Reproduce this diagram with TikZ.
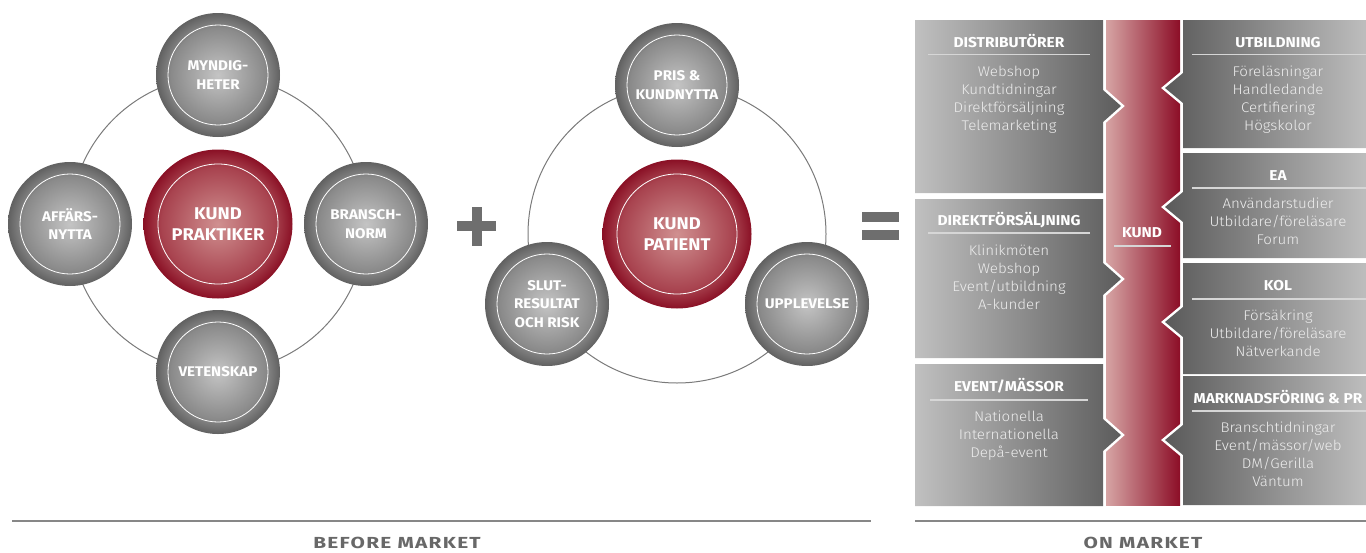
\documentclass[tikz,border=0pt]{standalone}
\usepackage{fontspec}
\setmainfont{Fira Sans}
\newfontfamily\wfont[FakeStretch=1.08]{Fira Sans}
\newfontfamily\lfont[FakeStretch=1.08]{Fira Sans Light}
\newfontfamily\botfont[FakeStretch=1.3,LetterSpace=8]{Fira Sans}
\definecolor{gballin}{HTML}{C4C4C4}
\definecolor{gballmid}{HTML}{8A8A8A}
\definecolor{gballout}{HTML}{616161}
\definecolor{rballin}{HTML}{D09090}
\definecolor{rballmid}{HTML}{A8434F}
\definecolor{rballout}{HTML}{8A1025}
\definecolor{lboxl}{HTML}{C0C0C0}
\definecolor{lboxr}{HTML}{5C5C5C}
\definecolor{rboxl}{HTML}{5A5A5A}
\definecolor{rboxr}{HTML}{BDBDBD}
\definecolor{redl}{HTML}{D6A4A4}
\definecolor{redr}{HTML}{8C0E27}
\definecolor{ringgray}{HTML}{7A7A7A}
\definecolor{signgray}{HTML}{6E6E6E}
\definecolor{labgray}{HTML}{686868}
\definecolor{itemcol}{HTML}{EDEDED}
\definecolor{hlinecol}{HTML}{D6D6D6}
% pgf maps the middle 50bp of a shading onto the path's bounding box
\pgfdeclareradialshading{grayball}{\pgfpoint{0bp}{0bp}}{color(0bp)=(gballin); color(19bp)=(gballmid); color(25bp)=(gballout); color(50bp)=(gballout)}
\pgfdeclareradialshading{redball}{\pgfpoint{0bp}{0bp}}{color(0bp)=(rballin); color(19bp)=(rballmid); color(25bp)=(rballout); color(50bp)=(rballout)}
\pgfdeclarehorizontalshading{lboxsh}{100bp}{color(0bp)=(lboxl); color(25bp)=(lboxl); color(75bp)=(lboxr); color(100bp)=(lboxr)}
\pgfdeclarehorizontalshading{rboxsh}{100bp}{color(0bp)=(rboxl); color(25bp)=(rboxl); color(75bp)=(rboxr); color(100bp)=(rboxr)}
\pgfdeclarehorizontalshading{redcolsh}{100bp}{color(0bp)=(redl); color(25bp)=(redl); color(75bp)=(redr); color(100bp)=(redr)}
\newcommand\mylbox[3]{%
  \draw[white,line width=5pt] (1103,#3) -- ++(18,16) -- ++(-18,16);
  \shade[shading=lboxsh] (915,#1) -- (1103,#1) -- (1103,#3) -- ++(18,16) -- ++(-18,16) -- (1103,#2) -- (915,#2) -- cycle;}
\newcommand\myrbox[3]{%
  \draw[white,line width=5pt] (1183,#3) -- ++(-18,15) -- ++(18,15);
  \shade[shading=rboxsh] (1366,#1) -- (1183,#1) -- (1183,#3) -- ++(-18,15) -- ++(18,15) -- (1183,#2) -- (1366,#2) -- cycle;}
\newcommand\myitems[4]{%
  \foreach \t [count=\i from 0] in {#4} \node[itemtxt] (#1\i) at (#2,#3+18*\i) {\t};}
\begin{document}
\begin{tikzpicture}[x=1pt,y=-1pt,
  ringline/.style={draw=ringgray,line width=1pt},
  ball/.style={circle,minimum size=124pt,inner sep=0pt,shading=grayball,align=center,text=white,
    font=\wfont\bfseries\fontsize{14}{18.5}\selectfont,
    path picture={\draw[white,line width=0.8pt] (path picture bounding box.center) circle[radius=50pt];}},
  rball/.style={circle,minimum size=149pt,inner sep=0pt,shading=redball,align=center,text=white,
    font=\wfont\bfseries\fontsize{17}{21.5}\selectfont,
    path picture={\draw[white,line width=0.8pt] (path picture bounding box.center) circle[radius=60pt];}},
  signbar/.style={fill=signgray,draw=none},
  headtxt/.style={anchor=base,inner sep=0pt,text=white,font=\wfont\bfseries\fontsize{14.3}{16}\selectfont},
  itemtxt/.style={anchor=base,inner sep=0pt,text=itemcol,font=\lfont\fontsize{14}{18}\selectfont},
  hline/.style={draw=hlinecol,line width=1.3pt},
  bottomline/.style={draw=ringgray!90,line width=1.6pt},
  bottomtxt/.style={anchor=base,inner sep=0pt,text=labgray,font=\botfont\bfseries\fontsize{16}{20}\selectfont}
]
\useasboundingbox (0,0) rectangle (1366,552);

% ---------- left diagram
\draw[ringline] (218,224) circle[radius=148pt];
\node[ball] (myn) at (218,75) {MYNDIG-\\HETER};
\node[ball] (aff) at (70,224) {AFFÄRS-\\NYTTA};
\node[ball] (bra) at (366,224) {BRANSCH-\\NORM};
\node[ball] (vet) at (218,372) {VETENSKAP};
\node[rball] (kpr) at (218,224) {KUND\\PRAKTIKER};

% plus
\path[signbar] (457,221) rectangle (496,231);
\path[signbar] (471.5,207) rectangle (481.5,246);

% ---------- middle diagram
\draw[ringline] (677,234) circle[radius=149pt];
\node[ball] (pris) at (677,85) {PRIS \&\\KUNDNYTTA};
\node[ball] (slut) at (547,304) {SLUT-\\RESULTAT\\OCH RISK};
\node[ball] (upp) at (807,304) {UPPLEVELSE};
\node[rball] (kpa) at (677,234) {KUND\\PATIENT};

% equals
\path[signbar] (862,212) rectangle (899,222);
\path[signbar] (862,230) rectangle (899,240);

% ---------- right panel
\shade[shading=redcolsh] (1106,20) rectangle (1180,505);
\mylbox{20}{193}{90}
\mylbox{199}{358}{263}
\mylbox{364}{506}{419}
\myrbox{20}{148}{73}
\myrbox{153}{258}{192}
\myrbox{263}{374}{307}
\myrbox{376}{505}{425}

\node[headtxt] (kund) at (1142,237) {KUND};
\draw[hline] (1114,246) -- (1171,246);

% left boxes text
\node[headtxt] (hdist) at (1009,47) {DISTRIBUTÖRER};
\draw[hline] (928,54.5) -- (1090,54.5);
\myitems{dist}{1009}{76.5}{Webshop,Kundtidningar,Direktförsäljning,Telemarketing}

\node[headtxt] (hdir) at (1009,225) {DIREKTFÖRSÄLJNING};
\draw[hline] (928,233) -- (1090,233);
\myitems{dir}{1009}{255}{Klinikmöten,Webshop,Event/utbildning,A-kunder}

\node[headtxt] (hev) at (1009,391.5) {EVENT/MÄSSOR};
\draw[hline] (930,400) -- (1088,400);
\myitems{ev}{1009}{421.5}{Nationella,Internationella,Depå-event}

% right boxes text
\node[headtxt] (hutb) at (1278,47) {UTBILDNING};
\draw[hline] (1192,54.5) -- (1366,54.5);
\myitems{utb}{1278}{76.5}{Föreläsningar,Handledande,Certifiering,Högskolor}

\node[headtxt] (hea) at (1278,180.5) {EA};
\draw[hline] (1192,188) -- (1366,188);
\myitems{ea}{1278}{208.5}{Användarstudier,Utbildare/föreläsare,Forum}

\node[headtxt] (hkol) at (1278,290.5) {KOL};
\draw[hline] (1192,299) -- (1366,299);
\myitems{kol}{1278}{320.5}{Försäkring,Utbildare/föreläsare,Nätverkande}

\node[headtxt] (hmar) at (1278,403.5) {MARKNADSFÖRING \& PR};
\draw[hline] (1192,411) -- (1366,411);
\myitems{mar}{1278}{432.5}{Branschtidningar,Event/mässor/web,DM/Gerilla,Väntum}

% ---------- bottom
\draw[bottomline] (12,521) -- (871,521);
\draw[bottomline] (915,521) -- (1366,521);
\node[bottomtxt] (before) at (397,548.5) {BEFORE MARKET};
\node[bottomtxt] (onm) at (1143,548.5) {ON MARKET};
\end{tikzpicture}
\end{document}
